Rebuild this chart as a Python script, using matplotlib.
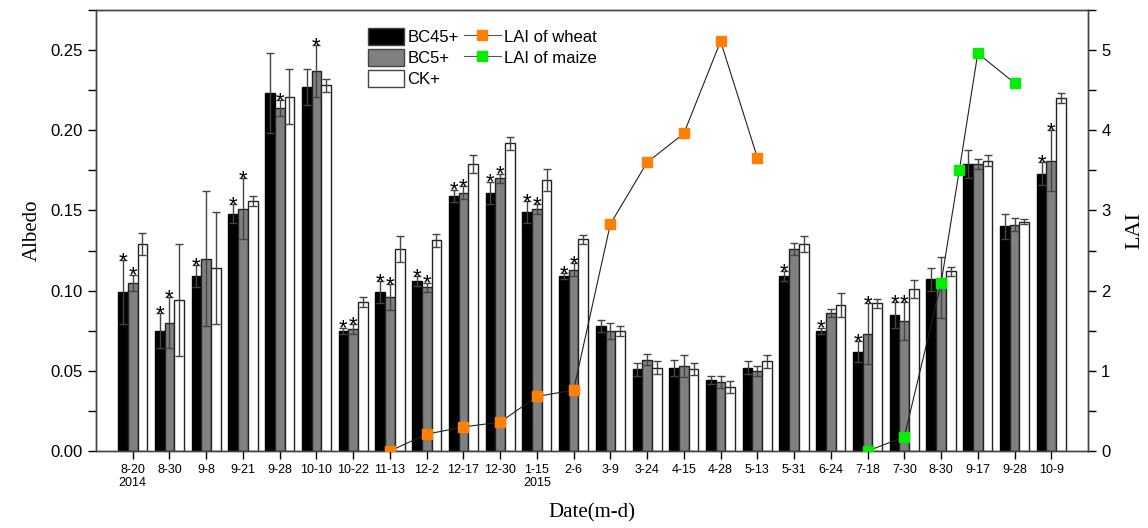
import matplotlib
matplotlib.use("Agg")
import matplotlib.pyplot as plt
import numpy as np
from matplotlib.patches import Patch
from matplotlib.lines import Line2D

dates = ["8-20\n2014", "8-30", "9-8", "9-21", "9-28", "10-10", "10-22", "11-13", "12-2",
         "12-17", "12-30", "1-15\n2015", "2-6", "3-9", "3-24", "4-15", "4-28", "5-13",
         "5-31", "6-24", "7-18", "7-30", "8-30", "9-17", "9-28", "10-9"]

bc45 = [0.099, 0.075, 0.109, 0.148, 0.223, 0.227, 0.075, 0.099, 0.106, 0.159, 0.161, 0.149, 0.109,
        0.078, 0.051, 0.052, 0.044, 0.052, 0.109, 0.075, 0.062, 0.085, 0.107, 0.179, 0.140, 0.173]
bc45_err = [0.020, 0.011, 0.007, 0.006, 0.025, 0.011, 0.002, 0.007, 0.003, 0.004, 0.007, 0.007, 0.002,
            0.004, 0.004, 0.005, 0.0025, 0.004, 0.003, 0.002, 0.0066, 0.008, 0.007, 0.009, 0.008, 0.007]
bc5 = [0.105, 0.080, 0.120, 0.151, 0.214, 0.237, 0.076, 0.096, 0.102, 0.161, 0.170, 0.151, 0.113,
       0.075, 0.057, 0.053, 0.043, 0.050, 0.126, 0.086, 0.073, 0.081, 0.102, 0.179, 0.141, 0.181]
bc5_err = [0.005, 0.016, 0.042, 0.019, 0.005, 0.016, 0.003, 0.008, 0.003, 0.004, 0.003, 0.003, 0.004,
           0.005, 0.0036, 0.007, 0.004, 0.003, 0.004, 0.0025, 0.019, 0.012, 0.019, 0.003, 0.004, 0.019]
ck = [0.129, 0.094, 0.114, 0.156, 0.221, 0.228, 0.093, 0.126, 0.1315, 0.179, 0.192, 0.169, 0.132,
      0.075, 0.052, 0.051, 0.040, 0.056, 0.129, 0.091, 0.092, 0.101, 0.112, 0.181, 0.143, 0.220]
ck_err = [0.007, 0.035, 0.035, 0.003, 0.017, 0.004, 0.003, 0.008, 0.004, 0.0056, 0.004, 0.0066, 0.003,
          0.003, 0.004, 0.0036, 0.0036, 0.004, 0.005, 0.0077, 0.0027, 0.0054, 0.0026, 0.0034, 0.0016, 0.003]

star_bc45 = [0, 1, 2, 3, 6, 7, 8, 9, 10, 11, 12, 18, 19, 20, 21, 25]
star_bc5 = [0, 1, 3, 4, 5, 6, 7, 8, 9, 10, 11, 12, 20, 21, 25]

wheat_x = [7, 8, 9, 10, 11, 12, 13, 14, 15, 16, 17]
wheat_lai = [0.0, 0.21, 0.30, 0.36, 0.68, 0.76, 2.83, 3.60, 3.96, 5.11, 3.66]
maize_x = [20, 21, 22, 22.5, 23, 24]
maize_lai = [0.0, 0.175, 2.09, 3.51, 4.96, 4.59]

plt.rcParams['font.family'] = ['Liberation Sans', 'DejaVu Sans']

fig = plt.figure(figsize=(11.48, 5.28), dpi=100)
ax = fig.add_axes([96/1148, 77/528, 992/1148, 441/528])

x = np.arange(len(dates))
w = 0.265
ekw = dict(elinewidth=1.0, capsize=3.0, capthick=1.0, ecolor='#444444')
ax.bar(x - w, bc45, w, yerr=bc45_err, color='black', edgecolor='black', linewidth=1, error_kw=ekw, label='BC45+')
ax.bar(x, bc5, w, yerr=bc5_err, color='#808080', edgecolor='#222222', linewidth=1, error_kw=ekw, label='BC5+')
ax.bar(x + w, ck, w, yerr=ck_err, color='white', edgecolor='#222222', linewidth=1, error_kw=ekw, label='CK+')

for i in star_bc45:
    ax.annotate('*', (x[i] - w, bc45[i] + bc45_err[i]), xytext=(0, -5), textcoords='offset points',
                ha='center', va='baseline', fontsize=16)
for i in star_bc5:
    ax.annotate('*', (x[i], bc5[i] + bc5_err[i]), xytext=(0, -5), textcoords='offset points',
                ha='center', va='baseline', fontsize=16)

ax.set_xlim(-1, len(dates))
ax.set_ylim(0, 0.275)
ax.set_yticks(np.arange(0, 0.26, 0.05))
ax.set_yticklabels(['0.00', '0.05', '0.10', '0.15', '0.20', '0.25'])
ax.set_yticks(np.arange(0, 0.276, 0.025), minor=True)
ax.set_xticks(x)
ax.set_xticklabels(dates, fontsize=9, linespacing=1.1)
ax.tick_params(axis='y', which='major', labelsize=12, length=6, width=1)
ax.tick_params(axis='y', which='minor', length=6, width=1)
ax.tick_params(axis='x', length=6, width=1)
ax.set_ylabel('Albedo', fontsize=15, family='Liberation Serif', labelpad=6)
ax.set_xlabel('Date(m-d)', fontsize=15, family='Liberation Serif', labelpad=10)

ax2 = ax.twinx()
ax2.set_ylim(0, 5.5)
ax2.set_yticks([0, 1, 2, 3, 4, 5])
ax2.set_yticks(np.arange(0, 5.51, 0.5), minor=True)
ax2.tick_params(axis='y', which='major', labelsize=12, length=6, width=1)
ax2.tick_params(axis='y', which='minor', length=6, width=1)
ax2.set_ylabel('LAI', fontsize=16, family='Liberation Serif', labelpad=11)
ax2.plot(wheat_x, wheat_lai, color='#222222', lw=0.8, marker='s', ms=7.5, mfc='#ff7f00', mec='#ff7f00',
         label='LAI of wheat', zorder=5)
ax2.plot(maize_x, maize_lai, color='#222222', lw=0.8, marker='s', ms=7.5, mfc='#00ee00', mec='#00ee00',
         label='LAI of maize', zorder=5)

for a in (ax, ax2):
    for s in a.spines.values():
        s.set_linewidth(1)
        s.set_color('#444444')

handles = [Patch(facecolor='black', edgecolor='#444444', label='BC45+'),
           Patch(facecolor='#808080', edgecolor='#444444', label='BC5+'),
           Patch(facecolor='white', edgecolor='#444444', label='CK+'),
           Line2D([], [], color='#555555', lw=0.8, marker='s', ms=7.5, mfc='#ff7f00', mec='#ff7f00', label='LAI of wheat'),
           Line2D([], [], color='#555555', lw=0.8, marker='s', ms=7.5, mfc='#00ee00', mec='#00ee00', label='LAI of maize')]
ax2.legend(handles=handles, ncol=2, loc='upper left', bbox_to_anchor=(0.262, 0.985), frameon=False,
           fontsize=12, handlelength=2.2, handleheight=1.15, handletextpad=0.2, columnspacing=0.3,
           labelspacing=0.25, borderpad=0.2)

fig.savefig('out.png', dpi=100)
